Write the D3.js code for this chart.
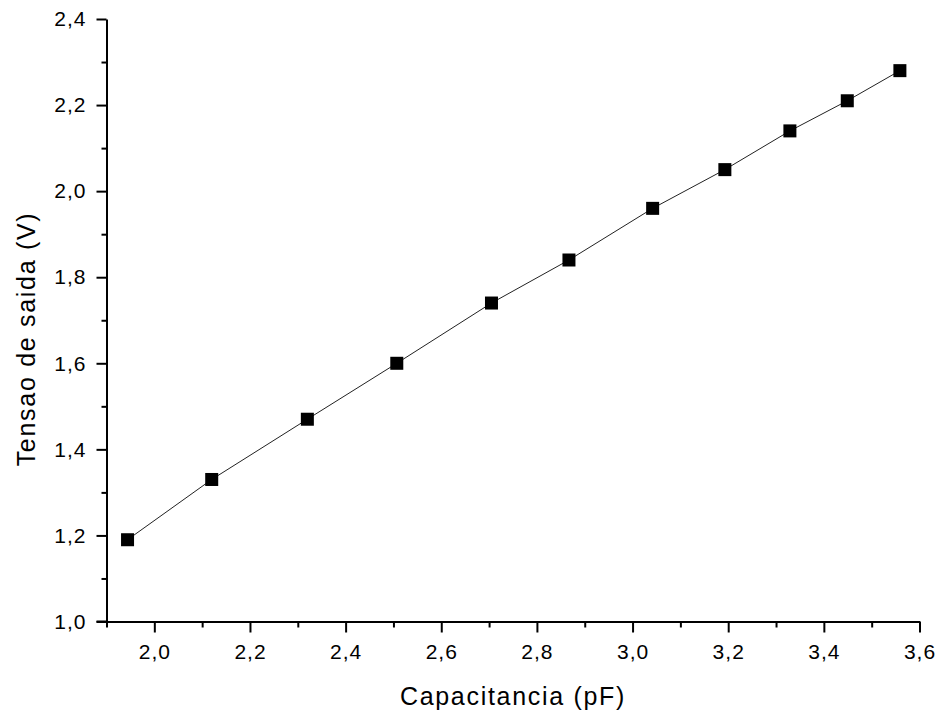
<!DOCTYPE html>
<html>
<head>
<meta charset="utf-8">
<script src="https://cdn.jsdelivr.net/npm/d3@7"></script>
<style>
  html, body { margin: 0; padding: 0; background: #fff; }
  svg { display: block; }
  .tick text { font-family: "Liberation Sans", Arial, sans-serif; }
</style>
</head>
<body>
<svg id="chart" width="941" height="714"></svg>
<script>
// Measured output voltage versus capacitance
const capacitance = [1.944, 2.12, 2.32, 2.507, 2.705, 2.867, 3.042, 3.193, 3.329, 3.449, 3.559];
const voltage     = [1.19, 1.33, 1.47, 1.60, 1.74, 1.84, 1.96, 2.05, 2.14, 2.21, 2.28];

const xMajorTicks = [2.0, 2.2, 2.4, 2.6, 2.8, 3.0, 3.2, 3.4, 3.6];
const xMinorTicks = [1.9, 2.1, 2.3, 2.5, 2.7, 2.9, 3.1, 3.3, 3.5];
const yMajorTicks = [1.0, 1.2, 1.4, 1.6, 1.8, 2.0, 2.2, 2.4];
const yMinorTicks = [1.1, 1.3, 1.5, 1.7, 1.9, 2.1, 2.3];

const xTitle = "Capacitancia (pF)";
const yTitle = "Tensao de saida (V)";

const svg = d3.select("#chart");
const font = "'Liberation Sans', Arial, sans-serif";

const x = d3.scaleLinear().domain([1.9, 3.6]).range([106.5, 919.5]);
const y = d3.scaleLinear().domain([1.0, 2.4]).range([621.5, 19]);

const fmt = v => d3.format(".1f")(v).replace(".", ",");

// Bottom axis: major ticks with labels
svg.append("g")
  .attr("transform", `translate(0,${y(1.0)})`)
  .call(d3.axisBottom(x).tickValues(xMajorTicks).tickFormat(fmt).tickSize(11).tickSizeOuter(0).tickPadding(12));
// Bottom axis: minor ticks
svg.append("g")
  .attr("transform", `translate(0,${y(1.0)})`)
  .call(d3.axisBottom(x).tickValues(xMinorTicks).tickFormat("").tickSize(6).tickSizeOuter(0))
  .select(".domain").remove();

// Left axis: major ticks with labels
svg.append("g")
  .attr("transform", `translate(${x(1.9)},0)`)
  .call(d3.axisLeft(y).tickValues(yMajorTicks).tickFormat(fmt).tickSize(10).tickSizeOuter(0).tickPadding(10));
// Left axis: minor ticks
svg.append("g")
  .attr("transform", `translate(${x(1.9)},0)`)
  .call(d3.axisLeft(y).tickValues(yMinorTicks).tickFormat("").tickSize(5).tickSizeOuter(0))
  .select(".domain").remove();

svg.selectAll(".domain, .tick line")
  .attr("stroke", "#000")
  .attr("stroke-width", 2);

svg.selectAll(".tick text")
  .attr("fill", "#000")
  .style("font-family", font)
  .style("font-size", "21px")
  .style("letter-spacing", "1px");

// Extend the bottom axis line under the left ticks
svg.append("line")
  .attr("x1", x(1.9) - 10).attr("x2", x(1.9))
  .attr("y1", y(1.0)).attr("y2", y(1.0))
  .attr("stroke", "#000").attr("stroke-width", 2);

// Connecting line
const line = d3.line()
  .x((d, i) => x(capacitance[i]))
  .y(d => y(d));
svg.append("path")
  .datum(voltage)
  .attr("d", line)
  .attr("fill", "none")
  .attr("stroke", "#222")
  .attr("stroke-width", 1);

// Square markers
const size = 13;
svg.append("g")
  .selectAll("rect")
  .data(voltage)
  .join("rect")
  .attr("x", (d, i) => x(capacitance[i]) - size / 2)
  .attr("y", d => y(d) - size / 2)
  .attr("width", size)
  .attr("height", size)
  .attr("fill", "#000");

// Axis titles
svg.append("text")
  .attr("x", 513)
  .attr("y", 705)
  .attr("text-anchor", "middle")
  .style("font-family", font)
  .style("font-size", "25px")
  .style("letter-spacing", "1.7px")
  .attr("fill", "#000")
  .text(xTitle);

svg.append("text")
  .attr("transform", "translate(35,339) rotate(-90)")
  .attr("text-anchor", "middle")
  .style("font-family", font)
  .style("font-size", "25px")
  .style("letter-spacing", "1.7px")
  .attr("fill", "#000")
  .text(yTitle);
</script>
</body>
</html>
